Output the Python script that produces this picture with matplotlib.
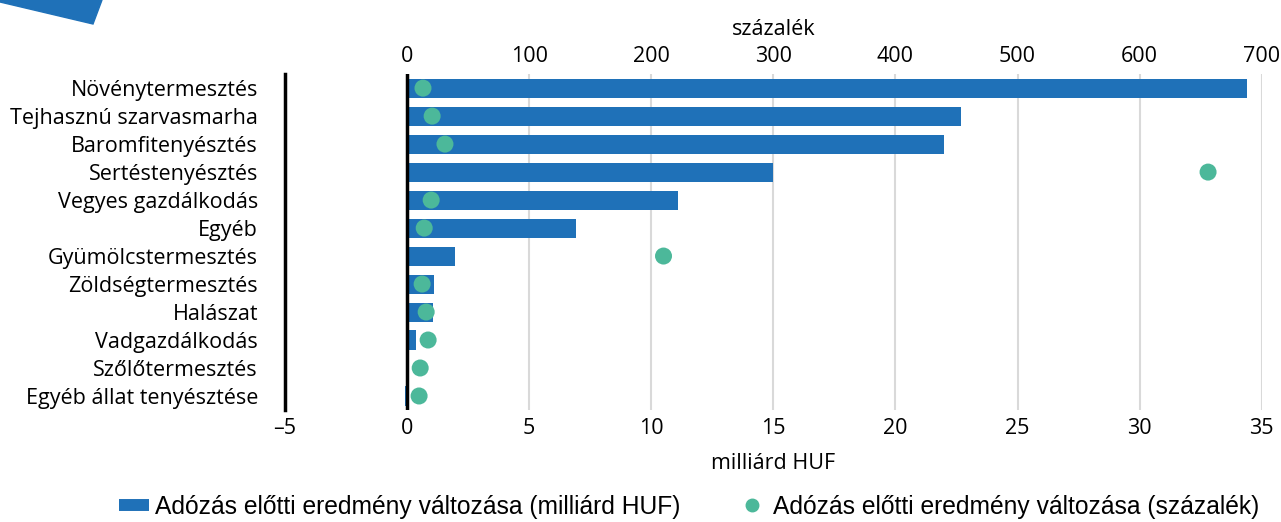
import matplotlib.pyplot as plt
from matplotlib.patches import Polygon

plt.rcParams['font.family'] = ['Open Sans', 'DejaVu Sans']

categories = ['Növénytermesztés', 'Tejhasznú szarvasmarha', 'Baromfitenyésztés',
              'Sertéstenyésztés', 'Vegyes gazdálkodás', 'Egyéb', 'Gyümölcstermesztés',
              'Zöldségtermesztés', 'Halászat', 'Vadgazdálkodás', 'Szőlőtermesztés',
              'Egyéb állat tenyésztése']
huf = [34.4, 22.7, 22.0, 15.0, 11.1, 6.9, 1.95, 1.1, 1.05, 0.35, 0.02, -0.1]
pct = [13, 20.5, 31, 656, 19.7, 14, 210, 12.3, 15.6, 17.2, 10.7, 9.8]

huf_ticks = [-5, 0, 5, 10, 15, 20, 25, 30, 35]
pct_ticks = [0, 100, 200, 300, 400, 500, 600, 700]

blue = '#1f71b8'
green = '#4cb89a'
fs = 15.5

fig = plt.figure(figsize=(12.81, 5.22), dpi=100)
ax = fig.add_axes([0.2225, 0.2146, 0.7625, 0.6434])

y = list(range(len(categories)))
ax.barh(y, huf, height=0.68, color=blue, zorder=2)
ax.set_xlim(-5, 35)
ax.set_ylim(len(categories) - 0.5, -0.5)
ax.set_yticks(y)
ax.set_yticklabels(categories, fontsize=fs)
ax.set_xticks(huf_ticks)
ax.set_xticklabels([('–' + str(-t)) if t < 0 else str(t) for t in huf_ticks], fontsize=fs)
ax.tick_params(length=0, pad=6)
ax.tick_params(axis='y', pad=19.5)
for t in huf_ticks[2:]:
    ax.axvline(t, color='#d9d9d9', lw=1.5, zorder=0)
ax.axvline(0, color='black', lw=2.5, zorder=3)
for s in ['top', 'right', 'bottom']:
    ax.spines[s].set_visible(False)
ax.spines['left'].set_linewidth(2.5)
ax.set_xlabel('milliárd HUF', fontsize=fs, labelpad=10)

ax2 = ax.twiny()
ax2.set_xlim(-100, 700)
ax2.scatter(pct, y, s=150, color=green, zorder=4, edgecolors='none')
ax2.set_xticks(pct_ticks)
ax2.set_xticklabels([str(t) for t in pct_ticks], fontsize=fs)
ax2.tick_params(length=0, pad=5)
for s in ax2.spines.values():
    s.set_visible(False)
ax2.set_xlabel('százalék', fontsize=fs, labelpad=8)

# legend
h1 = plt.Line2D([], [], color=blue, lw=8.6, solid_capstyle='butt')
h2 = plt.Line2D([], [], marker='o', ls='none', color=green, markersize=9)
fig.legend([h1, h2],
           ['Adózás előtti eredmény változása (milliárd HUF)',
            'Adózás előtti eredmény változása (százalék)'],
           loc='center', bbox_to_anchor=(0.538, 0.029), ncol=2, frameon=False,
           prop={'family': 'Liberation Sans', 'size': 17.7}, columnspacing=2.3,
           handlelength=1.2, handletextpad=0.25, borderpad=0, borderaxespad=0)

# corner decoration
fig.patches.append(Polygon([(0, 1), (102 / 1281, 1), (93 / 1281, 1 - 24 / 522), (0, 1 - 2 / 522)],
                           closed=True, transform=fig.transFigure, color=blue))

fig.savefig('out.png', dpi=100)
